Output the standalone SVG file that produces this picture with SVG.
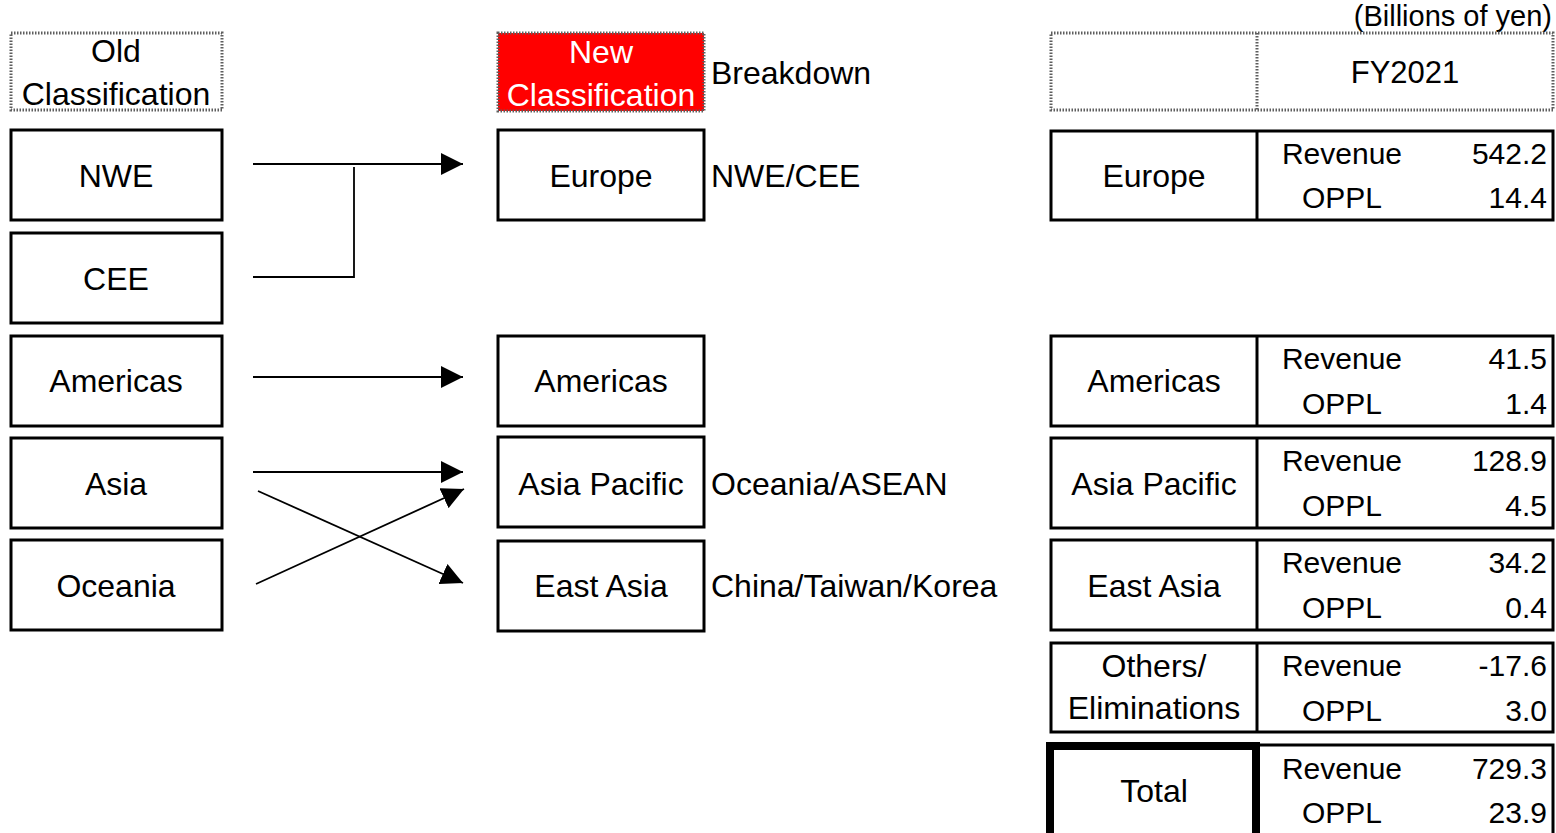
<svg xmlns="http://www.w3.org/2000/svg" width="1556" height="833" viewBox="0 0 1556 833">
<style>
  text { font-family: "Liberation Sans", Arial, sans-serif; font-size: 32px; fill: #000; }
  .v { font-size: 30px; }
  .c { text-anchor: middle; }
  .r { text-anchor: end; }
  .box { fill: #fff; stroke: #000; stroke-width: 3; }
  .hdr { fill: #fff; stroke: #5e5e5e; stroke-width: 3; stroke-dasharray: 1.5 1.5; }
  .div { stroke: #000; stroke-width: 3; }
  .hdiv { stroke: #5e5e5e; stroke-width: 3; stroke-dasharray: 1.5 1.5; }
  .conn { fill: none; stroke: #000; stroke-width: 1.8; }
</style>
<defs>
  <marker id="ah" markerUnits="userSpaceOnUse" markerWidth="22" markerHeight="22" viewBox="0 0 20 20" refX="20" refY="10" orient="auto">
    <path d="M0,0 L20,10 L0,20 Z" fill="#000"/>
  </marker>
</defs>

<text x="1552" y="26" class="r" style="font-size:29px">(Billions of yen)</text>

<!-- headers -->
<g id="hdr-old">
  <rect class="hdr" x="11" y="33" width="211" height="77"/>
  <text x="116" y="62" class="c">Old</text>
  <text x="116" y="105" class="c">Classification</text>
</g>
<g id="hdr-new">
  <rect x="498" y="33" width="206" height="78" fill="#ff0000" stroke="#5e5e5e" stroke-width="3" stroke-dasharray="1.5 1.5"/>
  <text x="601" y="63" class="c" style="fill:#fff">New</text>
  <text x="601" y="106" class="c" style="fill:#fff">Classification</text>
</g>
<text x="711" y="84">Breakdown</text>
<g id="hdr-table">
  <rect class="hdr" x="1051" y="33" width="502" height="77"/>
  <line class="hdiv" x1="1257" y1="33" x2="1257" y2="110"/>
  <text x="1405" y="83" class="c" style="font-size:31px">FY2021</text>
</g>

<!-- old classification -->
<g id="old-nwe"><rect class="box" x="11" y="130" width="211" height="90"/><text x="116" y="187" class="c">NWE</text></g>
<g id="old-cee"><rect class="box" x="11" y="233" width="211" height="90"/><text x="116" y="290" class="c">CEE</text></g>
<g id="old-americas"><rect class="box" x="11" y="336" width="211" height="90"/><text x="116" y="392" class="c">Americas</text></g>
<g id="old-asia"><rect class="box" x="11" y="438" width="211" height="90"/><text x="116" y="495" class="c">Asia</text></g>
<g id="old-oceania"><rect class="box" x="11" y="540" width="211" height="90"/><text x="116" y="597" class="c">Oceania</text></g>

<!-- new classification -->
<g id="new-europe"><rect class="box" x="498" y="130" width="206" height="90"/><text x="601" y="187" class="c">Europe</text><text x="711" y="187">NWE/CEE</text></g>
<g id="new-americas"><rect class="box" x="498" y="336" width="206" height="90"/><text x="601" y="392" class="c">Americas</text></g>
<g id="new-asiapacific"><rect class="box" x="498" y="437" width="206" height="90"/><text x="601" y="495" class="c">Asia Pacific</text><text x="711" y="495">Oceania/ASEAN</text></g>
<g id="new-eastasia"><rect class="box" x="498" y="541" width="206" height="90"/><text x="601" y="597" class="c">East Asia</text><text x="711" y="597">China/Taiwan/Korea</text></g>

<!-- connectors -->
<g id="connectors">
  <line class="conn" x1="253" y1="164" x2="463" y2="164" marker-end="url(#ah)"/>
  <polyline class="conn" points="253,277 354,277 354,167"/>
  <line class="conn" x1="253" y1="377" x2="463" y2="377" marker-end="url(#ah)"/>
  <line class="conn" x1="253" y1="472" x2="463" y2="472" marker-end="url(#ah)"/>
  <line class="conn" x1="258" y1="491" x2="463" y2="583" marker-end="url(#ah)"/>
  <line class="conn" x1="256" y1="584" x2="464" y2="489" marker-end="url(#ah)"/>
</g>

<!-- results table -->
<g id="tbl-europe">
  <rect class="box" x="1051" y="131" width="502" height="89"/>
  <line class="div" x1="1257" y1="131" x2="1257" y2="220"/>
  <text x="1154" y="187" class="c">Europe</text>
  <text x="1342" y="164" class="c v">Revenue</text><text x="1547" y="164" class="r v">542.2</text>
  <text x="1342" y="208" class="c v">OPPL</text><text x="1547" y="208" class="r v">14.4</text>
</g>
<g id="tbl-americas">
  <rect class="box" x="1051" y="336" width="502" height="90"/>
  <line class="div" x1="1257" y1="336" x2="1257" y2="426"/>
  <text x="1154" y="392" class="c">Americas</text>
  <text x="1342" y="369" class="c v">Revenue</text><text x="1547" y="369" class="r v">41.5</text>
  <text x="1342" y="414" class="c v">OPPL</text><text x="1547" y="414" class="r v">1.4</text>
</g>
<g id="tbl-asiapacific">
  <rect class="box" x="1051" y="438" width="502" height="90"/>
  <line class="div" x1="1257" y1="438" x2="1257" y2="528"/>
  <text x="1154" y="495" class="c">Asia Pacific</text>
  <text x="1342" y="471" class="c v">Revenue</text><text x="1547" y="471" class="r v">128.9</text>
  <text x="1342" y="516" class="c v">OPPL</text><text x="1547" y="516" class="r v">4.5</text>
</g>
<g id="tbl-eastasia">
  <rect class="box" x="1051" y="540" width="502" height="90"/>
  <line class="div" x1="1257" y1="540" x2="1257" y2="630"/>
  <text x="1154" y="597" class="c">East Asia</text>
  <text x="1342" y="573" class="c v">Revenue</text><text x="1547" y="573" class="r v">34.2</text>
  <text x="1342" y="618" class="c v">OPPL</text><text x="1547" y="618" class="r v">0.4</text>
</g>
<g id="tbl-others">
  <rect class="box" x="1051" y="643" width="502" height="89"/>
  <line class="div" x1="1257" y1="643" x2="1257" y2="732"/>
  <text x="1154" y="677" class="c">Others/</text>
  <text x="1154" y="719" class="c">Eliminations</text>
  <text x="1342" y="676" class="c v">Revenue</text><text x="1547" y="676" class="r v">-17.6</text>
  <text x="1342" y="721" class="c v">OPPL</text><text x="1547" y="721" class="r v">3.0</text>
</g>
<g id="tbl-total">
  <rect class="box" x="1257" y="745" width="296" height="100"/>
  <rect x="1050" y="746" width="206" height="100" fill="#fff" stroke="#000" stroke-width="8"/>
  <text x="1154" y="802" class="c">Total</text>
  <text x="1342" y="779" class="c v">Revenue</text><text x="1547" y="779" class="r v">729.3</text>
  <text x="1342" y="823" class="c v">OPPL</text><text x="1547" y="823" class="r v">23.9</text>
</g>
</svg>
